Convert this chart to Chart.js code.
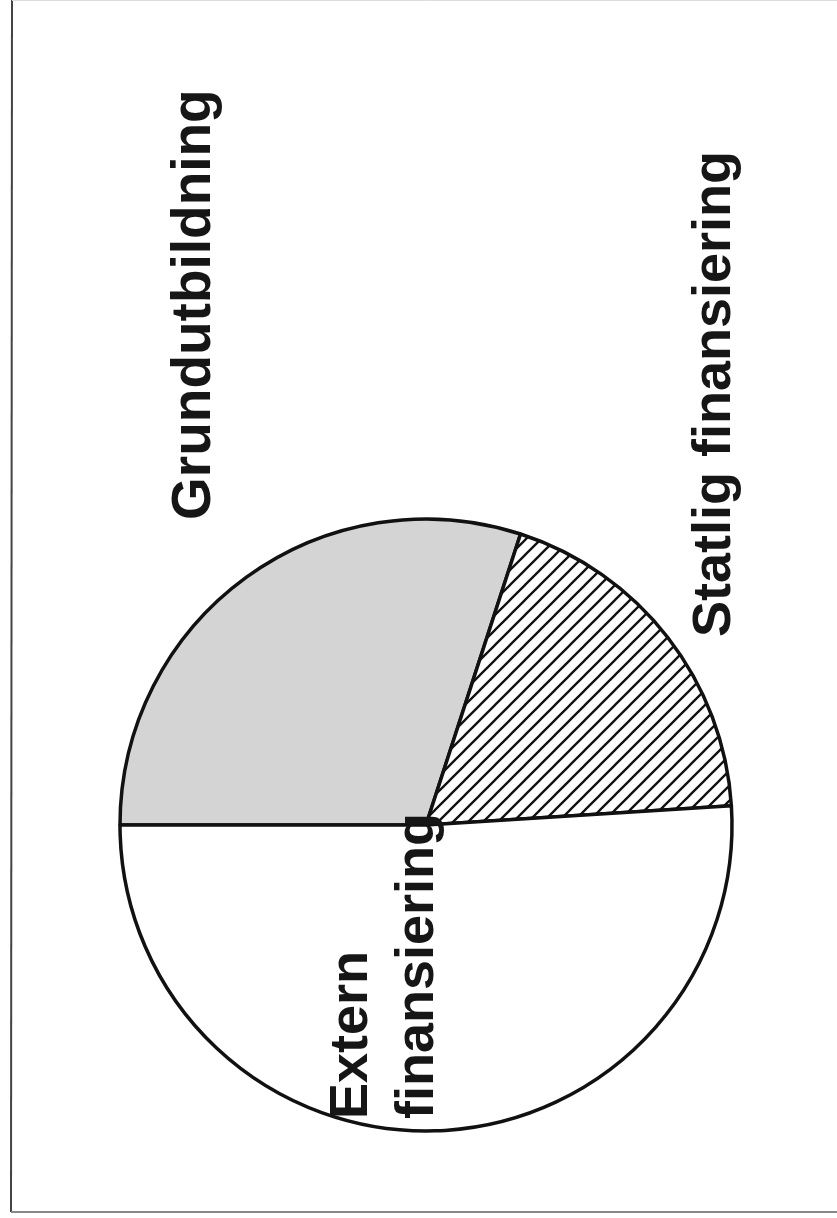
<!DOCTYPE html>
<html>
<head>
<meta charset="utf-8">
<script src="https://cdn.jsdelivr.net/npm/chart.js@4.4.1/dist/chart.umd.min.js"></script>
<style>
  html, body { margin: 0; padding: 0; background: #fff; }
  #wrap { position: relative; width: 837px; height: 1218px; }
</style>
</head>
<body>
<div id="wrap"><canvas id="c" width="837" height="1218"></canvas></div>
<script>
// ---- data ----
const categories = ["Grundutbildning", "Statlig finansiering", "Extern finansiering"];
const shares = [30, 19, 51];           // percent of the whole
const labelLines = [["Grundutbildning"], ["Statlig finansiering"], ["Extern", "finansiering"]];

// hatch pattern for the "Statlig finansiering" slice
function hatch() {
  const s = 15;
  const p = document.createElement('canvas');
  p.width = s; p.height = s;
  const g = p.getContext('2d');
  g.fillStyle = '#ffffff';
  g.fillRect(0, 0, s, s);
  g.strokeStyle = '#111111';
  g.lineWidth = 2.3;
  g.beginPath();
  g.moveTo(-2, s + 2); g.lineTo(s + 2, -2);
  g.moveTo(-2, 2); g.lineTo(2, -2);
  g.moveTo(s - 2, s + 2); g.lineTo(s + 2, s - 2);
  g.stroke();
  return g.createPattern(p, 'repeat');
}

const labelPlugin = {
  id: 'labels',
  beforeDraw(chart) {
    const ctx = chart.ctx;
    ctx.save();
    ctx.fillStyle = '#ffffff';
    ctx.fillRect(0, 0, chart.width, chart.height);
    // page frame of the scanned sheet
    ctx.strokeStyle = '#444';
    ctx.lineWidth = 2;
    ctx.beginPath(); ctx.moveTo(12, 0); ctx.lineTo(11, 1212); ctx.stroke();
    ctx.strokeStyle = '#888';
    ctx.lineWidth = 2;
    ctx.beginPath(); ctx.moveTo(11, 1212); ctx.lineTo(837, 1212); ctx.stroke();
    ctx.strokeStyle = '#ddd';
    ctx.lineWidth = 1;
    ctx.beginPath(); ctx.moveTo(12, 0.5); ctx.lineTo(837, 0.5); ctx.stroke();
    ctx.restore();
  },
  afterDraw(chart) {
    const ctx = chart.ctx;
    // rotated labels (reading bottom to top); positions: [baseline x, start y] per line
    const pos = [
      [[210, 520]],
      [[730, 637]],
      [[367, 1119], [433, 1119]]
    ];
    const sizes = [55, 54, 54];
    ctx.save();
    ctx.fillStyle = '#161616';
    ctx.textAlign = 'left';
    ctx.textBaseline = 'alphabetic';
    labelLines.forEach((lines, i) => {
      ctx.font = 'bold ' + sizes[i] + 'px "Liberation Sans", Arial, sans-serif';
      lines.forEach((t, j) => {
        const [x, y] = pos[i][j];
        ctx.save();
        ctx.translate(x, y);
        ctx.rotate(-Math.PI / 2);
        ctx.fillText(t, 0, 0);
        ctx.restore();
      });
    });
    ctx.restore();
  }
};

new Chart(document.getElementById('c'), {
  type: 'pie',
  data: {
    labels: categories,
    datasets: [{
      data: shares,
      backgroundColor: ['#d4d4d4', hatch(), '#ffffff'],
      borderColor: '#111111',
      borderWidth: 3.5,
      hoverOffset: 0
    }]
  },
  options: {
    responsive: false,
    devicePixelRatio: 1,
    animation: false,
    events: [],
    rotation: 270,
    radius: 306,
    layout: { padding: { left: 15, right: 0, top: 432, bottom: 0 } },
    plugins: {
      legend: { display: false },
      tooltip: { enabled: false },
      title: { display: false }
    }
  },
  plugins: [labelPlugin]
});
</script>
</body>
</html>
